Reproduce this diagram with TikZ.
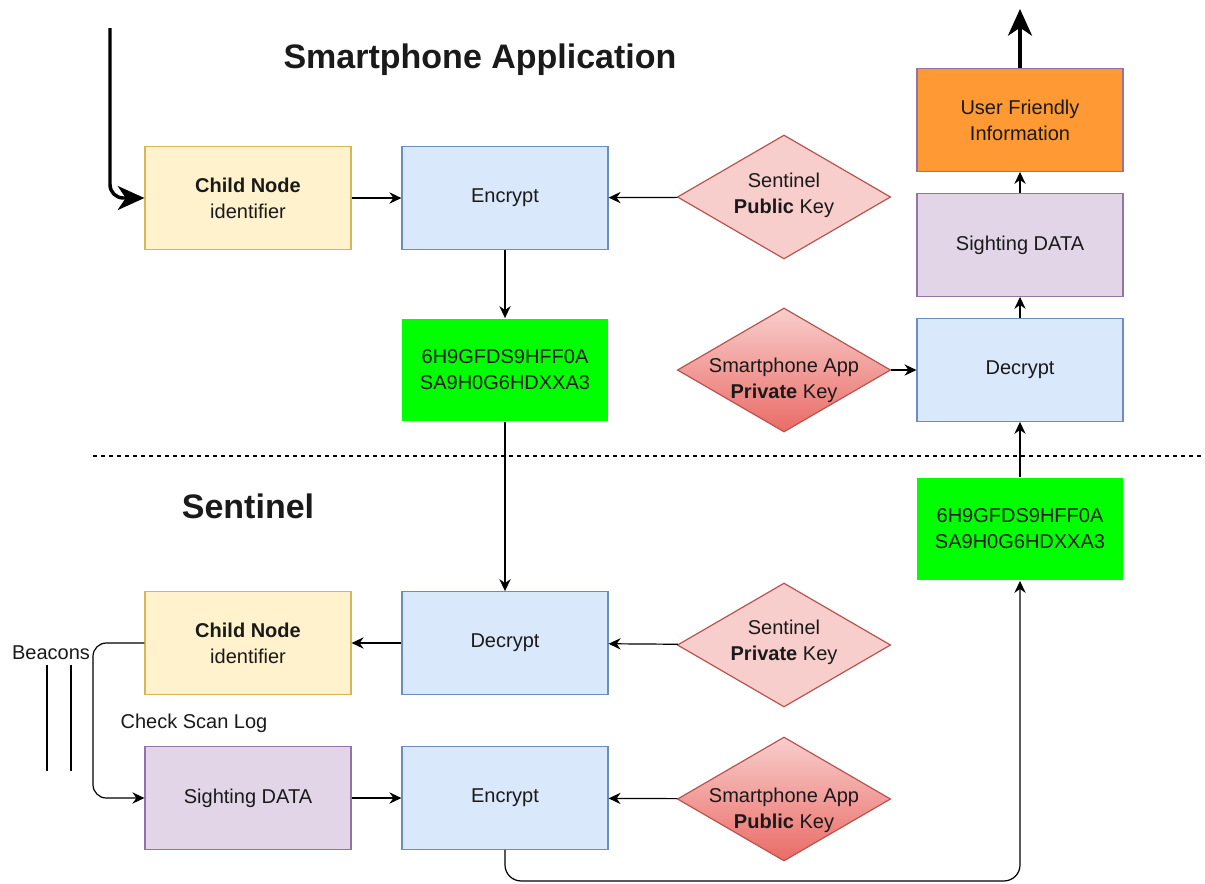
\documentclass[tikz,border=0pt]{standalone}
\usepackage{fontspec}
\setmainfont{Liberation Sans}
\usetikzlibrary{shapes.geometric,arrows.meta}
\newcommand{\fs}{\fontsize{15}{19.5}\selectfont}
\newcommand{\ft}{\fontsize{25.5}{30}\selectfont\bfseries}
\definecolor{yelF}{HTML}{FFF2CC}\definecolor{yelD}{HTML}{D6B656}
\definecolor{bluF}{HTML}{DAE8FC}\definecolor{bluD}{HTML}{6C8EBF}
\definecolor{purF}{HTML}{E1D5E7}\definecolor{purD}{HTML}{9673A6}
\definecolor{redF}{HTML}{F8CECC}\definecolor{redD}{HTML}{B85450}
\definecolor{redG}{HTML}{EA6B66}
\definecolor{grnF}{HTML}{00FF00}\definecolor{orgF}{HTML}{FF9933}
\definecolor{txt}{HTML}{1A1A1A}
\tikzset{
  box/.style={draw, line width=0.9pt, minimum width=154.5pt, minimum height=77pt, inner sep=0pt, align=center, font=\fs, text=txt},
  yelbox/.style={box, fill=yelF, draw=yelD},
  blubox/.style={box, fill=bluF, draw=bluD},
  purbox/.style={box, fill=purF, draw=purD},
  grnbox/.style={box, fill=grnF, draw=none},
  orgbox/.style={box, fill=orgF, draw=purD},
  keyd/.style={diamond, draw=redD, line width=0.9pt, minimum width=160pt, minimum height=93pt, inner sep=0pt},
  keyl/.style={keyd, fill=redF},
  keyg/.style={keyd, top color=redF, bottom color=redG},
  lbl/.style={font=\fs, align=center, text=txt, inner sep=0pt},
  arr/.style={line width=0.9pt, -{Stealth[length=9pt,width=8.5pt,inset=3pt]}},
  thk/.style={line width=2.6pt, -{Stealth[length=20pt,width=18pt,inset=6pt]}},
}
\begin{document}
\begin{tikzpicture}[x=0.75pt,y=-0.75pt]
\useasboundingbox[fill=white] (0,0) rectangle (1205,883);

% titles
\node[font=\ft, text=txt] (t1) at (480,60) {Smartphone Application};
\node[font=\ft, text=txt] (t2) at (248,506) {Sentinel};

% smartphone application part
\node[yelbox] (cn1) at (248,198) {\textbf{Child Node}\\identifier};
\node[blubox] (enc1) at (505,198) {Encrypt};
\node[keyl] (spk) at (784,197) {};
\node[lbl] at (784,195) {Sentinel\\\textbf{Public} Key};
\node[grnbox] (g1) at (505,370) {6H9GFDS9HFF0A\\SA9H0G6HDXXA3};
\node[keyg] (saprk) at (784,370) {};
\node[lbl] at (784,380) {Smartphone App\\\textbf{Private} Key};
\node[blubox] (dec1) at (1020,370) {Decrypt};
\node[purbox] (sd1) at (1020,245) {Sighting DATA};
\node[orgbox] (uf) at (1020,120) {User Friendly\\Information};

% separator
\coordinate (sepL) at (93,456);
\coordinate (sepR) at (1202,456);
\draw[line width=0.9pt, dash pattern=on 3pt off 3pt] (sepL) -- (sepR);

% sentinel part
\node[grnbox] (g2) at (1020,529) {6H9GFDS9HFF0A\\SA9H0G6HDXXA3};
\node[blubox] (dec2) at (505,643) {Decrypt};
\node[yelbox] (cn2) at (248,643) {\textbf{Child Node}\\identifier};
\node[keyl] (sprk) at (784,645) {};
\node[lbl] at (784,642) {Sentinel\\\textbf{Private} Key};
\node[purbox] (sd2) at (248,798) {Sighting DATA};
\node[blubox] (enc2) at (505,798) {Encrypt};
\node[keyg] (sapk) at (784,799) {};
\node[lbl] at (784,810) {Smartphone App\\\textbf{Public} Key};

\node[lbl] (beac) at (51,653) {Beacons};
\node[lbl] (csl) at (194,723) {Check Scan Log};
\draw[line width=0.9pt] (47,665) -- (47,771);
\draw[line width=0.9pt] (71,665) -- (71,771);

% connectors
\coordinate (start) at (110,28);
\draw[thk, rounded corners=10pt] (start) |- (cn1);
\draw[arr] (cn1) -- (enc1);
\draw[arr] (spk) -- (enc1);
\draw[arr] (enc1) -- (g1);
\draw[arr] (g1) -- (dec2);
\draw[arr] (dec2) -- (cn2);
\draw[arr] (sprk) -- (dec2);
\draw[arr] (sd2) -- (enc2);
\draw[arr] (sapk) -- (enc2);
\coordinate (bend) at (93,720);
\draw[arr, rounded corners=10pt] (cn2.west) -| (bend) |- (sd2.west);
\draw[arr, rounded corners=12pt] (enc2.south) -- ++(0,31) -| (g2.south);
\draw[arr] (g2) -- (dec1);
\draw[arr] (saprk) -- (dec1);
\draw[arr] (dec1) -- (sd1);
\draw[arr] (sd1) -- (uf);
\coordinate (topend) at (1020,9);
\draw[thk] (uf) -- (topend);
\end{tikzpicture}
\end{document}
